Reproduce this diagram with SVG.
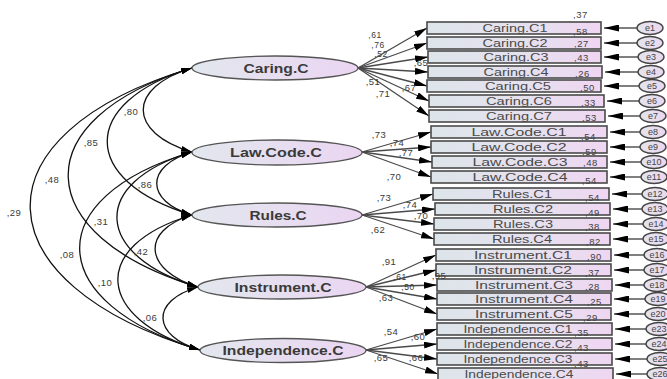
<svg xmlns="http://www.w3.org/2000/svg" width="667" height="379" viewBox="0 0 667 379">
<defs>
<style>
.box{fill:url(#gb);stroke:#4a4a4a;stroke-width:1.6}
.lat{fill:url(#ge);stroke:#555;stroke-width:1.3}
.res{fill:url(#gr);stroke:#444;stroke-width:1.4}
.bl{font-family:"Liberation Sans",Arial,sans-serif;font-size:11px;fill:#4a4a4a;text-anchor:middle}
.ll{font-family:"Liberation Sans",Arial,sans-serif;font-size:12.5px;font-weight:bold;fill:#3a3a3a;text-anchor:middle}
.v{font-family:"Liberation Sans",Arial,sans-serif;font-size:9.5px;fill:#444;letter-spacing:0.6px}
.n{font-family:"Liberation Sans",Arial,sans-serif;font-size:9.5px;fill:#3a3a3a;text-anchor:middle;letter-spacing:0.5px}
.s{font-size:8.5px}
.el{font-family:"Liberation Sans",Arial,sans-serif;font-size:9px;fill:#444;text-anchor:middle}
.ld{stroke:#4a4a4a;stroke-width:1.3;fill:none;marker-end:url(#ah)}
.rl{stroke:#555;stroke-width:1.5;fill:none;marker-end:url(#rh)}
.cv{stroke:#111;stroke-width:1.3;fill:none;marker-start:url(#ch);marker-end:url(#ch)}
</style>
<linearGradient id="gb" x1="0" y1="0" x2="1" y2="0">
<stop offset="0" stop-color="#dde5ea"/><stop offset="0.55" stop-color="#e6e1ee"/><stop offset="1" stop-color="#efd6f2"/>
</linearGradient>
<linearGradient id="ge" x1="0" y1="0" x2="1" y2="0">
<stop offset="0" stop-color="#e2e7ee"/><stop offset="1" stop-color="#ebd5f2"/>
</linearGradient>
<linearGradient id="gr" x1="0" y1="0" x2="1" y2="0">
<stop offset="0" stop-color="#e4e4ec"/><stop offset="1" stop-color="#ead8f0"/>
</linearGradient>
<marker id="ah" markerUnits="userSpaceOnUse" markerWidth="14" markerHeight="7" refX="13" refY="3.5" orient="auto"><path d="M0,0 L13,3.5 L0,7 z" fill="#000"/></marker>
<marker id="rh" markerUnits="userSpaceOnUse" markerWidth="16" markerHeight="7" refX="15" refY="3.5" orient="auto"><path d="M0,0 L15,3.5 L0,7 z" fill="#000"/></marker>
<marker id="ch" markerUnits="userSpaceOnUse" markerWidth="12" markerHeight="6" refX="11" refY="3" orient="auto-start-reverse"><path d="M0,0 L11,3 L0,6 z" fill="#000"/></marker>
</defs>
<rect width="667" height="379" fill="#fff"/>

<g id="connectors">
<path class="cv" d="M192,68 C127,87.5 127,132.5 192,152"/>
<path class="cv" d="M192,68 C79,102 79,181 192,215"/>
<path class="cv" d="M192,68 C23,119 29,236 198,287"/>
<path class="cv" d="M192,68 C-29,134 -21,284 200,350"/>
<path class="cv" d="M192,152 C145,166 145,201 192,215"/>
<path class="cv" d="M192,152 C88,183 94,256 198,287"/>
<path class="cv" d="M192,152 C37,198 45,304 200,350"/>
<path class="cv" d="M192,215 C139,231 145,271 198,287"/>
<path class="cv" d="M192,215 C88,246 96,319 200,350"/>
<path class="cv" d="M198,287 C150,301 152,336 200,350"/>
<text class="n" x="131" y="115">,80</text>
<text class="n" x="91" y="146">,85</text>
<text class="n" x="52" y="183">,48</text>
<text class="n" x="14" y="216">,29</text>
<text class="n" x="145" y="188">,86</text>
<text class="n" x="101" y="225">,31</text>
<text class="n" x="141" y="255">,42</text>
<text class="n" x="67" y="258">,08</text>
<text class="n" x="105" y="286">,10</text>
<text class="n" x="150" y="321">,06</text>

<path class="ld" d="M358,68 L427,28"/>
<path class="ld" d="M358,68 L427,43"/>
<path class="ld" d="M358,68 L428,57"/>
<path class="ld" d="M358,68 L428,72"/>
<path class="ld" d="M358,68 L427,86"/>
<path class="ld" d="M358,68 L429,101"/>
<path class="ld" d="M358,68 L429,116"/>
<path class="ld" d="M362,152 L431,132"/>
<path class="ld" d="M362,152 L431,147"/>
<path class="ld" d="M362,152 L432,162"/>
<path class="ld" d="M362,152 L431,177"/>
<path class="ld" d="M362,215 L433,194"/>
<path class="ld" d="M362,215 L435,209"/>
<path class="ld" d="M362,215 L434,224"/>
<path class="ld" d="M362,215 L434,239"/>
<path class="ld" d="M366,287 L436,255"/>
<path class="ld" d="M366,287 L436,270"/>
<path class="ld" d="M366,287 L437,285"/>
<path class="ld" d="M366,287 L437,299"/>
<path class="ld" d="M366,287 L437,314"/>
<path class="ld" d="M366,350 L437,329"/>
<path class="ld" d="M366,350 L437,344"/>
<path class="ld" d="M366,350 L437,359"/>
<path class="ld" d="M366,350 L438,374"/>

<text class="n s" x="375" y="38">,61</text>
<text class="n s" x="378" y="47.5">,76</text>
<text class="n s" x="381" y="57">,52</text>
<text class="n" x="421" y="66">,65</text>
<text class="n" x="373" y="85">,51</text>
<text class="n" x="409" y="91">,67</text>
<text class="n" x="383" y="97">,71</text>
<text class="n" x="379" y="138">,73</text>
<text class="n" x="397" y="146">,74</text>
<text class="n" x="406" y="156">,77</text>
<text class="n" x="394" y="180">,70</text>
<text class="n" x="384" y="201">,73</text>
<text class="n" x="410" y="208">,74</text>
<text class="n" x="421" y="219">,70</text>
<text class="n" x="378" y="233">,62</text>
<text class="n" x="389" y="265">,91</text>
<text class="n s" x="400" y="279.5">,61</text>
<text class="n s" x="408" y="290">,50</text>
<text class="n" x="386" y="301">,63</text>
<text class="n" x="391" y="335">,54</text>
<text class="n" x="418" y="340">,60</text>
<text class="n" x="381" y="361">,65</text>
<text class="n" x="416" y="361">,66</text>

<path class="rl" d="M637,28 L604,28"/>
<path class="rl" d="M637,43 L604,43"/>
<path class="rl" d="M638,57 L604,57"/>
<path class="rl" d="M638,72 L605,72"/>
<path class="rl" d="M639,86 L604,86"/>
<path class="rl" d="M639,101 L607,101"/>
<path class="rl" d="M640,116 L608,116"/>
<path class="rl" d="M640,132 L610,132"/>
<path class="rl" d="M640,147 L610,147"/>
<path class="rl" d="M641,162 L610,162"/>
<path class="rl" d="M641,177 L610,177"/>
<path class="rl" d="M642,194 L612,194"/>
<path class="rl" d="M642,209 L613,209"/>
<path class="rl" d="M643,224 L613,224"/>
<path class="rl" d="M643,239 L613,239"/>
<path class="rl" d="M644,255 L614,255"/>
<path class="rl" d="M644,270 L614,270"/>
<path class="rl" d="M644,285 L615,285"/>
<path class="rl" d="M645,299 L614,299"/>
<path class="rl" d="M645,314 L614,314"/>
<path class="rl" d="M646,329 L615,329"/>
<path class="rl" d="M646,344 L615,344"/>
<path class="rl" d="M647,359 L615,359"/>
<path class="rl" d="M647,374 L616,374"/>
</g>

<g id="Caring.C"><ellipse class="lat" cx="275" cy="68" rx="83" ry="12"/><text class="ll" x="276" y="72.5" textLength="65" lengthAdjust="spacingAndGlyphs">Caring.C</text></g>
<g id="Law.Code.C"><ellipse class="lat" cx="277" cy="152.5" rx="85" ry="12.5"/><text class="ll" x="276" y="157" textLength="92" lengthAdjust="spacingAndGlyphs">Law.Code.C</text></g>
<g id="Rules.C"><ellipse class="lat" cx="277" cy="215" rx="85" ry="12"/><text class="ll" x="278" y="219.5" textLength="57" lengthAdjust="spacingAndGlyphs">Rules.C</text></g>
<g id="Instrument.C"><ellipse class="lat" cx="282" cy="287" rx="84" ry="12"/><text class="ll" x="283" y="291.5" textLength="97" lengthAdjust="spacingAndGlyphs">Instrument.C</text></g>
<g id="Independence.C"><ellipse class="lat" cx="283" cy="350.5" rx="83" ry="12"/><text class="ll" x="283" y="355" textLength="121" lengthAdjust="spacingAndGlyphs">Independence.C</text></g>

<g id="Caring.C1"><rect class="box" x="427" y="22" width="174" height="12"/><text class="bl" x="515" y="32" textLength="65" lengthAdjust="spacingAndGlyphs">Caring.C1</text><text class="v" x="573" y="18">,37</text><text class="v" x="573" y="35">,58</text></g>
<g id="Caring.C2"><rect class="box" x="427" y="37" width="174" height="12"/><text class="bl" x="515" y="47" textLength="65" lengthAdjust="spacingAndGlyphs">Caring.C2</text><text class="v" x="574" y="47">,27</text></g>
<g id="Caring.C3"><rect class="box" x="428" y="51" width="173" height="12"/><text class="bl" x="516" y="61" textLength="65" lengthAdjust="spacingAndGlyphs">Caring.C3</text><text class="v" x="574" y="61">,43</text></g>
<g id="Caring.C4"><rect class="box" x="428" y="66" width="174" height="12"/><text class="bl" x="516" y="76" textLength="65" lengthAdjust="spacingAndGlyphs">Caring.C4</text><text class="v" x="575" y="77">,26</text></g>
<g id="Caring.C5"><rect class="box" x="427" y="80" width="174" height="12"/><text class="bl" x="518" y="90" textLength="66" lengthAdjust="spacingAndGlyphs">Caring.C5</text><text class="v" x="580" y="91">,50</text></g>
<g id="Caring.C6"><rect class="box" x="429" y="95" width="175" height="12"/><text class="bl" x="519" y="105" textLength="66" lengthAdjust="spacingAndGlyphs">Caring.C6</text><text class="v" x="581" y="106">,33</text></g>
<g id="Caring.C7"><rect class="box" x="429" y="110" width="176" height="12"/><text class="bl" x="519" y="120" textLength="66" lengthAdjust="spacingAndGlyphs">Caring.C7</text><text class="v" x="582" y="121">,53</text></g>
<g id="Law.Code.C1"><rect class="box" x="431" y="126" width="176" height="12"/><text class="bl" x="519" y="136" textLength="95" lengthAdjust="spacingAndGlyphs">Law.Code.C1</text><text class="v" x="581" y="140">,54</text></g>
<g id="Law.Code.C2"><rect class="box" x="431" y="141" width="176" height="12"/><text class="bl" x="519" y="151" textLength="95" lengthAdjust="spacingAndGlyphs">Law.Code.C2</text><text class="v" x="582" y="155">,59</text></g>
<g id="Law.Code.C3"><rect class="box" x="432" y="156" width="175" height="12"/><text class="bl" x="520" y="166" textLength="95" lengthAdjust="spacingAndGlyphs">Law.Code.C3</text><text class="v" x="583" y="166">,48</text></g>
<g id="Law.Code.C4"><rect class="box" x="431" y="171" width="176" height="12"/><text class="bl" x="520" y="181" textLength="95" lengthAdjust="spacingAndGlyphs">Law.Code.C4</text><text class="v" x="582" y="184">,54</text></g>
<g id="Rules.C1"><rect class="box" x="433" y="188" width="176" height="12"/><text class="bl" x="522" y="198" textLength="60" lengthAdjust="spacingAndGlyphs">Rules.C1</text><text class="v" x="585" y="201">,54</text></g>
<g id="Rules.C2"><rect class="box" x="435" y="203" width="175" height="12"/><text class="bl" x="523" y="213" textLength="60" lengthAdjust="spacingAndGlyphs">Rules.C2</text><text class="v" x="585" y="216">,49</text></g>
<g id="Rules.C3"><rect class="box" x="434" y="218" width="176" height="12"/><text class="bl" x="523" y="228" textLength="60" lengthAdjust="spacingAndGlyphs">Rules.C3</text><text class="v" x="585" y="230">,38</text></g>
<g id="Rules.C4"><rect class="box" x="434" y="233" width="176" height="12"/><text class="bl" x="522" y="243" textLength="60" lengthAdjust="spacingAndGlyphs">Rules.C4</text><text class="v" x="586" y="245">,82</text></g>
<g id="Instrument.C1"><rect class="box" x="436" y="249" width="175" height="12"/><text class="bl" x="523" y="259" textLength="98" lengthAdjust="spacingAndGlyphs">Instrument.C1</text><text class="v" x="587" y="260">,90</text></g>
<g id="Instrument.C2"><rect class="box" x="436" y="264" width="175" height="12"/><text class="bl" x="523" y="274" textLength="98" lengthAdjust="spacingAndGlyphs">Instrument.C2</text><text class="v" x="585" y="276">,37</text></g>
<g id="Instrument.C3"><rect class="box" x="437" y="279" width="175" height="12"/><text class="bl" x="524" y="289" textLength="98" lengthAdjust="spacingAndGlyphs">Instrument.C3</text><text class="v" x="585" y="290">,28</text></g>
<g id="Instrument.C4"><rect class="box" x="437" y="293" width="174" height="12"/><text class="bl" x="524" y="303" textLength="98" lengthAdjust="spacingAndGlyphs">Instrument.C4</text><text class="v" x="587" y="305">,25</text></g>
<g id="Instrument.C5"><rect class="box" x="437" y="308" width="174" height="12"/><text class="bl" x="524" y="318" textLength="98" lengthAdjust="spacingAndGlyphs">Instrument.C5</text><text class="v" x="583" y="321">,29</text></g>
<g id="Independence.C1"><rect class="box" x="437" y="323" width="175" height="12"/><text class="bl" x="518" y="333" textLength="109" lengthAdjust="spacingAndGlyphs">Independence.C1</text><text class="v" x="574" y="336">,35</text></g>
<g id="Independence.C2"><rect class="box" x="437" y="338" width="175" height="12"/><text class="bl" x="518" y="348" textLength="109" lengthAdjust="spacingAndGlyphs">Independence.C2</text><text class="v" x="574" y="351">,43</text></g>
<g id="Independence.C3"><rect class="box" x="437" y="353" width="175" height="12"/><text class="bl" x="518" y="363" textLength="109" lengthAdjust="spacingAndGlyphs">Independence.C3</text><text class="v" x="574" y="367">,43</text></g>
<g id="Independence.C4"><rect class="box" x="438" y="368" width="175" height="12"/><text class="bl" x="519" y="378" textLength="109" lengthAdjust="spacingAndGlyphs">Independence.C4</text></g>

<g id="top-labels"><text class="n" x="439" y="279">,95</text></g>

<g id="e1"><ellipse class="res" cx="650" cy="28" rx="13" ry="6.5"/><text class="el" x="650" y="31">e1</text></g>
<g id="e2"><ellipse class="res" cx="650" cy="43" rx="13" ry="6.5"/><text class="el" x="650" y="46">e2</text></g>
<g id="e3"><ellipse class="res" cx="651" cy="57" rx="13" ry="6.5"/><text class="el" x="651" y="60">e3</text></g>
<g id="e4"><ellipse class="res" cx="651" cy="72" rx="13" ry="6.5"/><text class="el" x="651" y="75">e4</text></g>
<g id="e5"><ellipse class="res" cx="652" cy="86" rx="13" ry="6.5"/><text class="el" x="652" y="89">e5</text></g>
<g id="e6"><ellipse class="res" cx="652" cy="101" rx="13" ry="6.5"/><text class="el" x="652" y="104">e6</text></g>
<g id="e7"><ellipse class="res" cx="653" cy="116" rx="13" ry="6.5"/><text class="el" x="653" y="119">e7</text></g>
<g id="e8"><ellipse class="res" cx="653" cy="132" rx="13" ry="6.5"/><text class="el" x="653" y="135">e8</text></g>
<g id="e9"><ellipse class="res" cx="653" cy="147" rx="13" ry="6.5"/><text class="el" x="653" y="150">e9</text></g>
<g id="e10"><ellipse class="res" cx="654" cy="162" rx="13" ry="6.5"/><text class="el" x="654" y="165">e10</text></g>
<g id="e11"><ellipse class="res" cx="654" cy="177" rx="13" ry="6.5"/><text class="el" x="654" y="180">e11</text></g>
<g id="e12"><ellipse class="res" cx="655" cy="194" rx="13" ry="6.5"/><text class="el" x="655" y="197">e12</text></g>
<g id="e13"><ellipse class="res" cx="655" cy="209" rx="13" ry="6.5"/><text class="el" x="655" y="212">e13</text></g>
<g id="e14"><ellipse class="res" cx="656" cy="224" rx="13" ry="6.5"/><text class="el" x="656" y="227">e14</text></g>
<g id="e15"><ellipse class="res" cx="656" cy="239" rx="13" ry="6.5"/><text class="el" x="656" y="242">e15</text></g>
<g id="e16"><ellipse class="res" cx="657" cy="255" rx="13" ry="6.5"/><text class="el" x="657" y="258">e16</text></g>
<g id="e17"><ellipse class="res" cx="657" cy="270" rx="13" ry="6.5"/><text class="el" x="657" y="273">e17</text></g>
<g id="e18"><ellipse class="res" cx="657" cy="285" rx="13" ry="6.5"/><text class="el" x="657" y="288">e18</text></g>
<g id="e19"><ellipse class="res" cx="658" cy="299" rx="13" ry="6.5"/><text class="el" x="658" y="302">e19</text></g>
<g id="e20"><ellipse class="res" cx="658" cy="314" rx="13" ry="6.5"/><text class="el" x="658" y="317">e20</text></g>
<g id="e23"><ellipse class="res" cx="659" cy="329" rx="13" ry="6.5"/><text class="el" x="659" y="332">e23</text></g>
<g id="e24"><ellipse class="res" cx="659" cy="344" rx="13" ry="6.5"/><text class="el" x="659" y="347">e24</text></g>
<g id="e25"><ellipse class="res" cx="660" cy="359" rx="13" ry="6.5"/><text class="el" x="660" y="362">e25</text></g>
<g id="e26"><ellipse class="res" cx="660" cy="374" rx="13" ry="6.5"/><text class="el" x="660" y="377">e26</text></g>
</svg>
